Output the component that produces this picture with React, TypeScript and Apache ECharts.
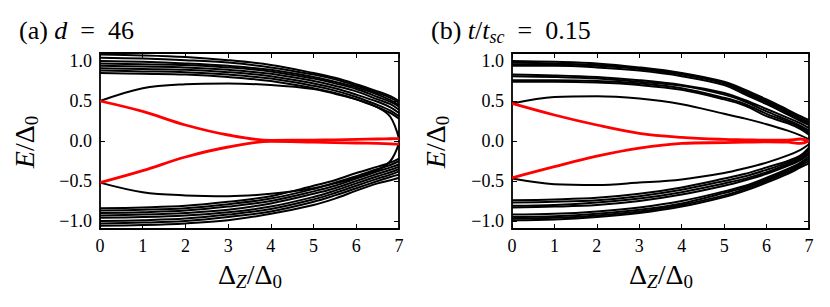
import React, { useEffect, useRef } from "react";
import * as echarts from "echarts";

// Shared x grid (Delta_Z / Delta_0)
const X = [0, 1, 2, 3, 4, 5, 5.5, 6, 6.5, 6.8, 7];
const Y_TICKS = [-1, -0.5, 0, 0.5, 1];

// Panel (a), d = 46 : upper band
const A_UP1 = [1.08, 1.07, 1.05, 1.01, 0.95, 0.85, 0.79, 0.71, 0.62, 0.56, 0.5];
const A_UP2 = [1.04, 1.03, 1.01, 0.98, 0.92, 0.83, 0.77, 0.69, 0.6, 0.54, 0.48];
const A_UP3 = [1.0, 0.99, 0.97, 0.94, 0.89, 0.8, 0.74, 0.67, 0.58, 0.51, 0.45];
const A_UP4 = [0.97, 0.96, 0.95, 0.92, 0.87, 0.78, 0.72, 0.65, 0.55, 0.49, 0.43];
const A_UP5 = [0.94, 0.93, 0.92, 0.89, 0.84, 0.75, 0.69, 0.62, 0.52, 0.46, 0.39];
const A_UP6 = [0.91, 0.9, 0.89, 0.86, 0.81, 0.72, 0.66, 0.58, 0.49, 0.42, 0.35];
const A_UP7 = [0.88, 0.87, 0.86, 0.83, 0.78, 0.69, 0.63, 0.55, 0.45, 0.38, 0.31];
const A_UP8 = [0.85, 0.84, 0.83, 0.8, 0.75, 0.66, 0.6, 0.52, 0.42, 0.35, 0.28];
const A_IN_UP = [0.5, 0.66, 0.71, 0.72, 0.7, 0.65, 0.59, 0.52, 0.42, 0.3, 0.03];
// Panel (a) lower band
const A_DN1 = [-0.84, -0.83, -0.81, -0.76, -0.69, -0.56, -0.49, -0.4, -0.32, -0.27, -0.22];
const A_DN2 = [-0.87, -0.86, -0.84, -0.79, -0.72, -0.6, -0.52, -0.44, -0.35, -0.3, -0.25];
const A_DN3 = [-0.9, -0.89, -0.87, -0.82, -0.75, -0.63, -0.56, -0.47, -0.38, -0.33, -0.29];
const A_DN4 = [-0.93, -0.92, -0.9, -0.86, -0.78, -0.66, -0.59, -0.5, -0.41, -0.36, -0.32];
const A_DN5 = [-0.96, -0.95, -0.93, -0.89, -0.82, -0.7, -0.62, -0.53, -0.44, -0.39, -0.35];
const A_DN6 = [-1.0, -0.99, -0.97, -0.92, -0.85, -0.73, -0.65, -0.56, -0.47, -0.42, -0.38];
const A_DN7 = [-1.03, -1.02, -1.0, -0.95, -0.88, -0.76, -0.68, -0.59, -0.5, -0.45, -0.42];
const A_DN8 = [-1.06, -1.05, -1.03, -0.99, -0.91, -0.8, -0.72, -0.62, -0.53, -0.49, -0.46];
const A_IN_DN = [-0.52, -0.64, -0.68, -0.69, -0.66, -0.59, -0.53, -0.46, -0.36, -0.25, -0.03];
// Panel (a) red (Majorana) levels
const A_RED_UP = [0.5, 0.37, 0.2, 0.075, 0.008, 0.012, 0.015, 0.02, 0.025, 0.028, 0.03];
const A_RED_DN = [-0.52, -0.37, -0.2, -0.075, -0.005, -0.015, -0.02, -0.025, -0.03, -0.035, -0.04];

// Panel (b), t/t_sc = 0.15 : upper band
const B_UP1 = [1.0, 0.99, 0.97, 0.92, 0.85, 0.74, 0.64, 0.52, 0.39, 0.31, 0.26];
const B_UP2 = [0.98, 0.97, 0.95, 0.91, 0.84, 0.73, 0.62, 0.5, 0.37, 0.29, 0.24];
const B_UP3 = [0.96, 0.96, 0.94, 0.9, 0.83, 0.72, 0.6, 0.48, 0.35, 0.27, 0.22];
const B_UP4 = [0.94, 0.94, 0.92, 0.88, 0.81, 0.7, 0.58, 0.46, 0.33, 0.25, 0.2];
const B_UP5 = [0.83, 0.82, 0.8, 0.76, 0.7, 0.6, 0.51, 0.4, 0.29, 0.22, 0.16];
const B_UP6 = [0.81, 0.8, 0.78, 0.74, 0.69, 0.58, 0.49, 0.37, 0.26, 0.19, 0.13];
const B_UP7 = [0.76, 0.76, 0.75, 0.72, 0.66, 0.54, 0.46, 0.34, 0.24, 0.17, 0.1];
const B_UP8 = [0.74, 0.74, 0.73, 0.7, 0.64, 0.52, 0.44, 0.31, 0.22, 0.15, 0.08];
const B_IN_UP = [0.47, 0.55, 0.56, 0.53, 0.46, 0.34, 0.28, 0.21, 0.13, 0.07, 0.02];
// Panel (b) lower band
const B_DN1 = [-0.74, -0.73, -0.71, -0.66, -0.58, -0.47, -0.41, -0.33, -0.25, -0.18, -0.08];
const B_DN2 = [-0.77, -0.76, -0.74, -0.69, -0.61, -0.5, -0.44, -0.36, -0.27, -0.2, -0.11];
const B_DN3 = [-0.81, -0.8, -0.77, -0.72, -0.64, -0.53, -0.47, -0.39, -0.29, -0.22, -0.14];
const B_DN4 = [-0.83, -0.82, -0.8, -0.75, -0.67, -0.56, -0.49, -0.41, -0.31, -0.24, -0.16];
const B_DN5 = [-0.92, -0.91, -0.88, -0.83, -0.75, -0.63, -0.56, -0.46, -0.35, -0.27, -0.19];
const B_DN6 = [-0.95, -0.94, -0.91, -0.86, -0.78, -0.65, -0.58, -0.48, -0.37, -0.29, -0.22];
const B_DN7 = [-0.97, -0.96, -0.93, -0.88, -0.8, -0.68, -0.6, -0.5, -0.39, -0.31, -0.25];
const B_DN8 = [-0.99, -0.98, -0.95, -0.9, -0.82, -0.7, -0.62, -0.52, -0.41, -0.33, -0.28];
const B_IN_DN = [-0.47, -0.54, -0.55, -0.52, -0.48, -0.4, -0.34, -0.27, -0.18, -0.11, -0.04];
// Panel (b) red levels
const B_RED_UP = [0.47, 0.325, 0.2, 0.096, 0.046, 0.02, 0.015, 0.01, 0.012, 0.025, 0.0];
const B_RED_DN = [-0.46, -0.32, -0.19, -0.09, -0.03, -0.02, -0.015, -0.01, -0.015, -0.03, 0.0];

const PANEL_A_BLACK = [A_UP1, A_UP2, A_UP3, A_UP4, A_UP5, A_UP6, A_UP7, A_UP8, A_IN_UP, A_DN1, A_DN2, A_DN3, A_DN4, A_DN5, A_DN6, A_DN7, A_DN8, A_IN_DN];
const PANEL_A_RED = [A_RED_UP, A_RED_DN];
const PANEL_B_BLACK = [B_UP1, B_UP2, B_UP3, B_UP4, B_UP5, B_UP6, B_UP7, B_UP8, B_IN_UP, B_DN1, B_DN2, B_DN3, B_DN4, B_DN5, B_DN6, B_DN7, B_DN8, B_IN_DN];
const PANEL_B_RED = [B_RED_UP, B_RED_DN];

const FONT = "Liberation Serif";

function fmtY(v: number) {
  if (Math.abs(v) < 1e-9) return "0.0";
  return (v < 0 ? "\u2212" : "") + Math.abs(v).toFixed(1);
}

export default function App() {
  const ref = useRef<HTMLDivElement>(null);
  useEffect(() => {
    document.body.style.margin = "0";
    if (!ref.current) return;
    const chart = echarts.init(ref.current, undefined, { renderer: "svg" });

    const grids = [
      { left: 100, top: 53, width: 299, height: 176 },
      { left: 512, top: 53, width: 297, height: 176 },
    ];
    const axisLine = { show: true, onZero: false, lineStyle: { color: "#000", width: 1.8 } };
    const tick = { show: true, inside: true, length: 5, lineStyle: { color: "#000", width: 1 } };
    const xAxes: any[] = [];
    const yAxes: any[] = [];
    grids.forEach((_, g) => {
      xAxes.push({
        type: "value", gridIndex: g, position: "bottom", min: 0, max: 7, interval: 1,
        axisLine, splitLine: { show: false }, axisTick: tick,
        axisLabel: { show: true, margin: 8, color: "#000", fontFamily: FONT, fontSize: 18, formatter: (v: number) => String(v) },
      });
      xAxes.push({
        type: "value", gridIndex: g, position: "top", min: 0, max: 7, interval: 1,
        axisLine, splitLine: { show: false }, axisTick: tick,
        axisLabel: { show: false },
      });
      yAxes.push({
        type: "value", gridIndex: g, position: "left", min: -1.1, max: 1.1,
        axisLine, splitLine: { show: false },
        axisTick: { ...tick, customValues: Y_TICKS },
        axisLabel: { show: true, margin: 8, color: "#000", fontFamily: FONT, fontSize: 18, customValues: Y_TICKS, formatter: fmtY },
      });
      yAxes.push({
        type: "value", gridIndex: g, position: "right", min: -1.1, max: 1.1,
        axisLine, splitLine: { show: false },
        axisTick: { ...tick, customValues: Y_TICKS },
        axisLabel: { show: false },
      });
    });

    const series: any[] = [];
    const mk = (arr: number[], g: number, color: string, width: number, z: number) => ({
      type: "line",
      xAxisIndex: g * 2,
      yAxisIndex: g * 2,
      data: X.map((x, i) => [x, arr[i]]),
      showSymbol: false,
      symbol: "none",
      smooth: 0.35,
      lineStyle: { color, width },
      z,
      silent: true,
    });
    PANEL_A_BLACK.forEach((a) => series.push(mk(a, 0, "#000", 2, 2)));
    PANEL_A_RED.forEach((a) => series.push(mk(a, 0, "#ff0000", 2.8, 3)));
    PANEL_B_BLACK.forEach((a) => series.push(mk(a, 1, "#000", 2, 2)));
    PANEL_B_RED.forEach((a) => series.push(mk(a, 1, "#ff0000", 2.8, 3)));

    const italic = { fontStyle: "italic", fontFamily: FONT };

    const graphic: any[] = [
      {
        type: "text", x: 19, y: 30,
        style: {
          text: "(a) {i|d}\u2002=\u200246", fontSize: 26, fontFamily: FONT, fill: "#000",
          textAlign: "left", textVerticalAlign: "middle",
          rich: { i: { ...italic, fontSize: 26 } },
        },
      },
      {
        type: "text", x: 431, y: 30,
        style: {
          text: "(b) {i|t}/{i|t}{s|sc}\u2002=\u20020.15", fontSize: 26, fontFamily: FONT, fill: "#000",
          textAlign: "left", textVerticalAlign: "middle",
          rich: { i: { ...italic, fontSize: 26 }, s: { ...italic, fontSize: 18, padding: [13, 0, 0, 0] } },
        },
      },
    ];
    const yCenters = [24, 435];
    const xCenters = [250, 661];
    yCenters.forEach((cx) => {
      graphic.push({
        type: "text", x: cx, y: 142, rotation: Math.PI / 2,
        style: {
          text: "{i|E}/\u0394{s|0}", fontSize: 28, fontFamily: FONT, fill: "#000",
          textAlign: "center", textVerticalAlign: "middle",
          rich: { i: { ...italic, fontSize: 28 }, s: { fontFamily: FONT, fontSize: 19, padding: [14, 0, 0, 0] } },
        },
      });
    });
    xCenters.forEach((cx) => {
      graphic.push({
        type: "text", x: cx, y: 274,
        style: {
          text: "\u0394{si|Z}/\u0394{s|0}", fontSize: 28, fontFamily: FONT, fill: "#000",
          textAlign: "center", textVerticalAlign: "middle",
          rich: { si: { ...italic, fontSize: 19, padding: [14, 0, 0, 0] }, s: { fontFamily: FONT, fontSize: 19, padding: [14, 0, 0, 0] } },
        },
      });
    });

    chart.setOption({
      animation: false,
      backgroundColor: "#fff",
      grid: grids,
      xAxis: xAxes,
      yAxis: yAxes,
      series,
      graphic,
    });
    return () => chart.dispose();
  }, []);
  return <div ref={ref} style={{ width: 830, height: 307 }} />;
}
